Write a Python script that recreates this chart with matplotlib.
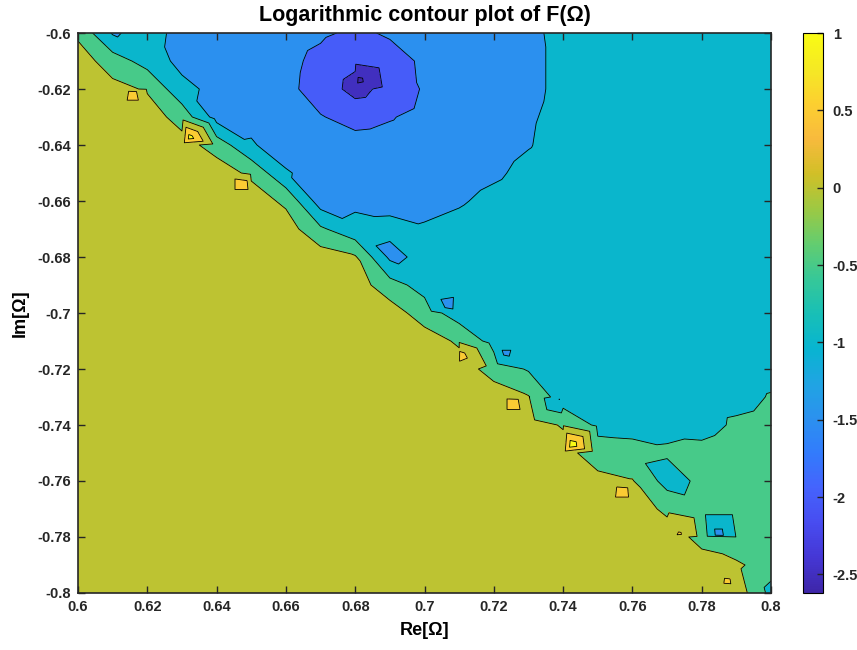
import matplotlib
matplotlib.use('Agg')
import matplotlib.pyplot as plt
import matplotlib.tri as mtri
from matplotlib.colors import LinearSegmentedColormap, Normalize
from matplotlib.cm import ScalarMappable

# Sample grid: Re[Omega] columns, Im[Omega] rows (top row is Im = -0.60)
re_grid = [0.60, 0.61, 0.62, 0.63, 0.64, 0.65, 0.66, 0.67, 0.68, 0.69, 0.70,
           0.71, 0.72, 0.73, 0.74, 0.75, 0.76, 0.77, 0.78, 0.79, 0.80]
im_grid = [-0.60, -0.61, -0.62, -0.63, -0.64, -0.65, -0.66, -0.67, -0.68, -0.69, -0.70,
           -0.71, -0.72, -0.73, -0.74, -0.75, -0.76, -0.77, -0.78, -0.79, -0.80]

# log10|F| at the grid nodes
log_f = [
    [-0.10, -1.05, -0.85, -1.12, -1.20, -1.25, -1.30, -1.43, -1.58, -1.45, -1.32, -1.20, -1.10, -1.04, -0.95, -0.88, -0.86, -0.85, -0.84, -0.83, -0.82],
    [0.25, -0.25, -0.70, -1.15, -1.20, -1.25, -1.38, -1.62, -1.88, -1.67, -1.43, -1.26, -1.13, -1.04, -0.96, -0.88, -0.86, -0.85, -0.84, -0.83, -0.82],
    [0.25, 0.15, -0.05, -0.85, -1.15, -1.25, -1.40, -1.67, -2.20, -1.80, -1.45, -1.26, -1.14, -1.04, -0.96, -0.87, -0.85, -0.84, -0.83, -0.82, -0.81],
    [0.25, 0.25, 0.25, -0.20, -1.20, -1.15, -1.34, -1.48, -1.62, -1.53, -1.37, -1.23, -1.12, -1.02, -0.95, -0.86, -0.84, -0.83, -0.82, -0.81, -0.80],
    [0.25, 0.25, 0.25, 0.20, -0.20, -0.95, -1.25, -1.32, -1.37, -1.34, -1.26, -1.16, -1.07, -1.01, -0.93, -0.85, -0.83, -0.82, -0.81, -0.80, -0.79],
    [0.25, 0.25, 0.25, 0.25, 0.25, -0.10, -0.95, -1.22, -1.21, -1.20, -1.15, -1.08, -1.03, -0.95, -0.90, -0.83, -0.82, -0.80, -0.80, -0.79, -0.78],
    [0.25, 0.25, 0.25, 0.25, 0.25, 0.25, -0.10, -1.25, -1.10, -1.09, -1.06, -1.02, -0.95, -0.90, -0.86, -0.80, -0.80, -0.78, -0.78, -0.77, -0.76],
    [0.25, 0.25, 0.25, 0.25, 0.25, 0.25, 0.25, -0.42, -0.85, -0.92, -0.98, -0.94, -0.88, -0.85, -0.82, -0.78, -0.78, -0.76, -0.76, -0.75, -0.74],
    [0.25, 0.25, 0.25, 0.25, 0.25, 0.25, 0.25, 0.25, 0.05, -1.10, -0.90, -0.85, -0.82, -0.80, -0.78, -0.75, -0.76, -0.74, -0.74, -0.73, -0.72],
    [0.25, 0.25, 0.25, 0.25, 0.25, 0.25, 0.25, 0.25, 0.25, -0.30, -0.70, -0.80, -0.78, -0.77, -0.76, -0.73, -0.74, -0.72, -0.72, -0.71, -0.70],
    [0.25, 0.25, 0.25, 0.25, 0.25, 0.25, 0.25, 0.25, 0.25, 0.25, -0.25, -0.75, -0.75, -0.74, -0.73, -0.70, -0.72, -0.70, -0.70, -0.69, -0.68],
    [0.25, 0.25, 0.25, 0.25, 0.25, 0.25, 0.25, 0.25, 0.25, 0.25, 0.25, -0.08, -0.70, -0.70, -0.70, -0.68, -0.70, -0.68, -0.68, -0.67, -0.65],
    [0.25, 0.25, 0.25, 0.25, 0.25, 0.25, 0.25, 0.25, 0.25, 0.25, 0.25, 0.25, -0.20, -0.55, -0.75, -0.72, -0.68, -0.66, -0.66, -0.64, -0.60],
    [0.25, 0.25, 0.25, 0.25, 0.25, 0.25, 0.25, 0.25, 0.25, 0.25, 0.25, 0.25, 0.25, 0.03, -0.80, -0.73, -0.66, -0.64, -0.64, -0.60, -0.48],
    [0.25, 0.25, 0.25, 0.25, 0.25, 0.25, 0.25, 0.25, 0.25, 0.25, 0.25, 0.25, 0.25, 0.25, -0.05, -0.60, -0.62, -0.60, -0.62, -0.45, -0.40],
    [0.25, 0.25, 0.25, 0.25, 0.25, 0.25, 0.25, 0.25, 0.25, 0.25, 0.25, 0.25, 0.25, 0.25, 0.25, -0.35, -0.38, -0.45, -0.40, -0.30, -0.35],
    [0.25, 0.25, 0.25, 0.25, 0.25, 0.25, 0.25, 0.25, 0.25, 0.25, 0.25, 0.25, 0.25, 0.25, 0.25, 0.20, 0.03, -0.70, -0.40, -0.30, -0.30],
    [0.25, 0.25, 0.25, 0.25, 0.25, 0.25, 0.25, 0.25, 0.25, 0.25, 0.25, 0.25, 0.25, 0.25, 0.25, 0.25, 0.25, -0.10, -0.30, -0.30, -0.30],
    [0.25, 0.25, 0.25, 0.25, 0.25, 0.25, 0.25, 0.25, 0.25, 0.25, 0.25, 0.25, 0.25, 0.25, 0.25, 0.25, 0.25, 0.25, -0.15, -0.48, -0.30],
    [0.25, 0.25, 0.25, 0.25, 0.25, 0.25, 0.25, 0.25, 0.25, 0.25, 0.25, 0.25, 0.25, 0.25, 0.25, 0.25, 0.25, 0.25, 0.20, 0.10, -0.30],
    [0.25, 0.25, 0.25, 0.25, 0.25, 0.25, 0.25, 0.25, 0.25, 0.25, 0.25, 0.25, 0.25, 0.25, 0.25, 0.25, 0.25, 0.25, 0.25, 0.30, -0.65],
]

# isolated samples between grid nodes: the zero, the small peaks and dips
spot_re = [0.681, 0.6162, 0.6323, 0.6485, 0.7102, 0.7261, 0.7426, 0.7582,
           0.7736, 0.7879, 0.7071, 0.7232, 0.7389, 0.7848]
spot_im = [-0.617, -0.6211, -0.6373, -0.6534, -0.7150, -0.7311, -0.7471, -0.7632,
           -0.7790, -0.7957, -0.6977, -0.7144, -0.7308, -0.7792]
spot_val = [-2.62, 0.62, 1.20, 0.65, 0.70, 0.65, 1.30, 0.65,
            0.56, 0.56, -1.15, -1.10, -1.01, -1.20]

line_levels = [-2.5, -2, -1.5, -1, -0.5, 0, 0.5, 1]
fill_levels = [-2.65] + line_levels + [1.35]
x_ticks = [0.6, 0.62, 0.64, 0.66, 0.68, 0.7, 0.72, 0.74, 0.76, 0.78, 0.8]
y_ticks = [-0.8, -0.78, -0.76, -0.74, -0.72, -0.7, -0.68, -0.66, -0.64, -0.62, -0.6]
cbar_ticks = [-2.5, -2, -1.5, -1, -0.5, 0, 0.5, 1]

# MATLAB parula, sampled
parula_rgb = [
    (0.2422, 0.1504, 0.6603), (0.2706, 0.2147, 0.8364), (0.2813, 0.3006, 0.9414),
    (0.2699, 0.3892, 0.9906), (0.1963, 0.4847, 0.9892), (0.1687, 0.5703, 0.9359),
    (0.1248, 0.6459, 0.8883), (0.0297, 0.7082, 0.8163), (0.0964, 0.7500, 0.7120),
    (0.2161, 0.7843, 0.5923), (0.3909, 0.8029, 0.4354), (0.6174, 0.7876, 0.2612),
    (0.8203, 0.7498, 0.1535), (0.9728, 0.7298, 0.2394), (0.9892, 0.8136, 0.1885),
    (0.9597, 0.9135, 0.1423), (0.9769, 0.9839, 0.0805),
]
parula = LinearSegmentedColormap.from_list('parula', parula_rgb)
norm = Normalize(vmin=-2.62, vmax=1.0)

plt.rcParams['font.family'] = ['Liberation Sans', 'DejaVu Sans']
plt.rcParams['font.weight'] = 'bold'
plt.rcParams['axes.labelweight'] = 'bold'
plt.rcParams['axes.titleweight'] = 'bold'

# points: grid nodes first, then the isolated samples
ncol = len(re_grid)
nrow = len(im_grid)
xs, ys, zs = [], [], []
for i in range(nrow):
    for k in range(ncol):
        xs.append(re_grid[k])
        ys.append(im_grid[i])
        zs.append(log_f[i][k])
xs += spot_re
ys += spot_im
zs += spot_val


def cell_of(re, im):
    k = max(j for j in range(ncol - 1) if re_grid[j] <= re)
    i = max(j for j in range(nrow - 1) if im_grid[j] >= im)
    return i, k


spot_cells = {}
for s in range(len(spot_re)):
    spot_cells[cell_of(spot_re[s], spot_im[s])] = nrow * ncol + s

# cells split along the band direction; cells holding a sample are fanned from it
triangles = []
for i in range(nrow - 1):
    for k in range(ncol - 1):
        tl, tr = i * ncol + k, i * ncol + k + 1
        bl, br = (i + 1) * ncol + k, (i + 1) * ncol + k + 1
        if (i, k) in spot_cells:
            c = spot_cells[(i, k)]
            triangles += [[c, tl, tr], [c, tr, br], [c, br, bl], [c, bl, tl]]
        else:
            triangles += [[tl, tr, br], [tl, br, bl]]
tri = mtri.Triangulation(xs, ys, triangles)

fig = plt.figure(figsize=(8.57, 6.5), dpi=100)
ax = fig.add_axes([0.091, 0.0877, 0.8087, 0.8615])

# each band takes the colour of its lower level, as MATLAB does
fill_colors = [parula(norm(l)) for l in fill_levels[:-1]]
ax.tricontourf(tri, zs, levels=fill_levels, colors=fill_colors)
ax.tricontour(tri, zs, levels=line_levels, colors='k', linewidths=0.6,
              linestyles='solid')

ax.set_xlim(0.6, 0.8)
ax.set_ylim(-0.8, -0.6)
ax.set_xticks(x_ticks)
ax.set_xticklabels(['{:g}'.format(v) for v in x_ticks])
ax.set_yticks(y_ticks)
ax.set_yticklabels(['{:g}'.format(v) for v in y_ticks])
ax.tick_params(direction='in', top=True, right=True, length=5, width=1,
               labelsize=10.5, colors='#262626', pad=5)
for s in ax.spines.values():
    s.set_linewidth(1.2)
    s.set_color('#262626')

ax.set_title('Logarithmic contour plot of F(\u03a9)', fontsize=15.5, pad=9)
ax.set_xlabel('Re[\u03a9]', fontsize=13, labelpad=6)
ax.set_ylabel('Im[\u03a9]', fontsize=13, labelpad=6)

cax = fig.add_axes([0.937, 0.0877, 0.0233, 0.8615])
cb = fig.colorbar(ScalarMappable(norm=norm, cmap=parula), cax=cax)
cb.set_ticks(cbar_ticks)
cb.set_ticklabels(['{:g}'.format(v) for v in cbar_ticks])
cb.ax.tick_params(direction='in', length=4, width=1, labelsize=10.5,
                  colors='#262626', pad=7)
cb.outline.set_linewidth(0.8)

fig.savefig('out.png', dpi=100)
